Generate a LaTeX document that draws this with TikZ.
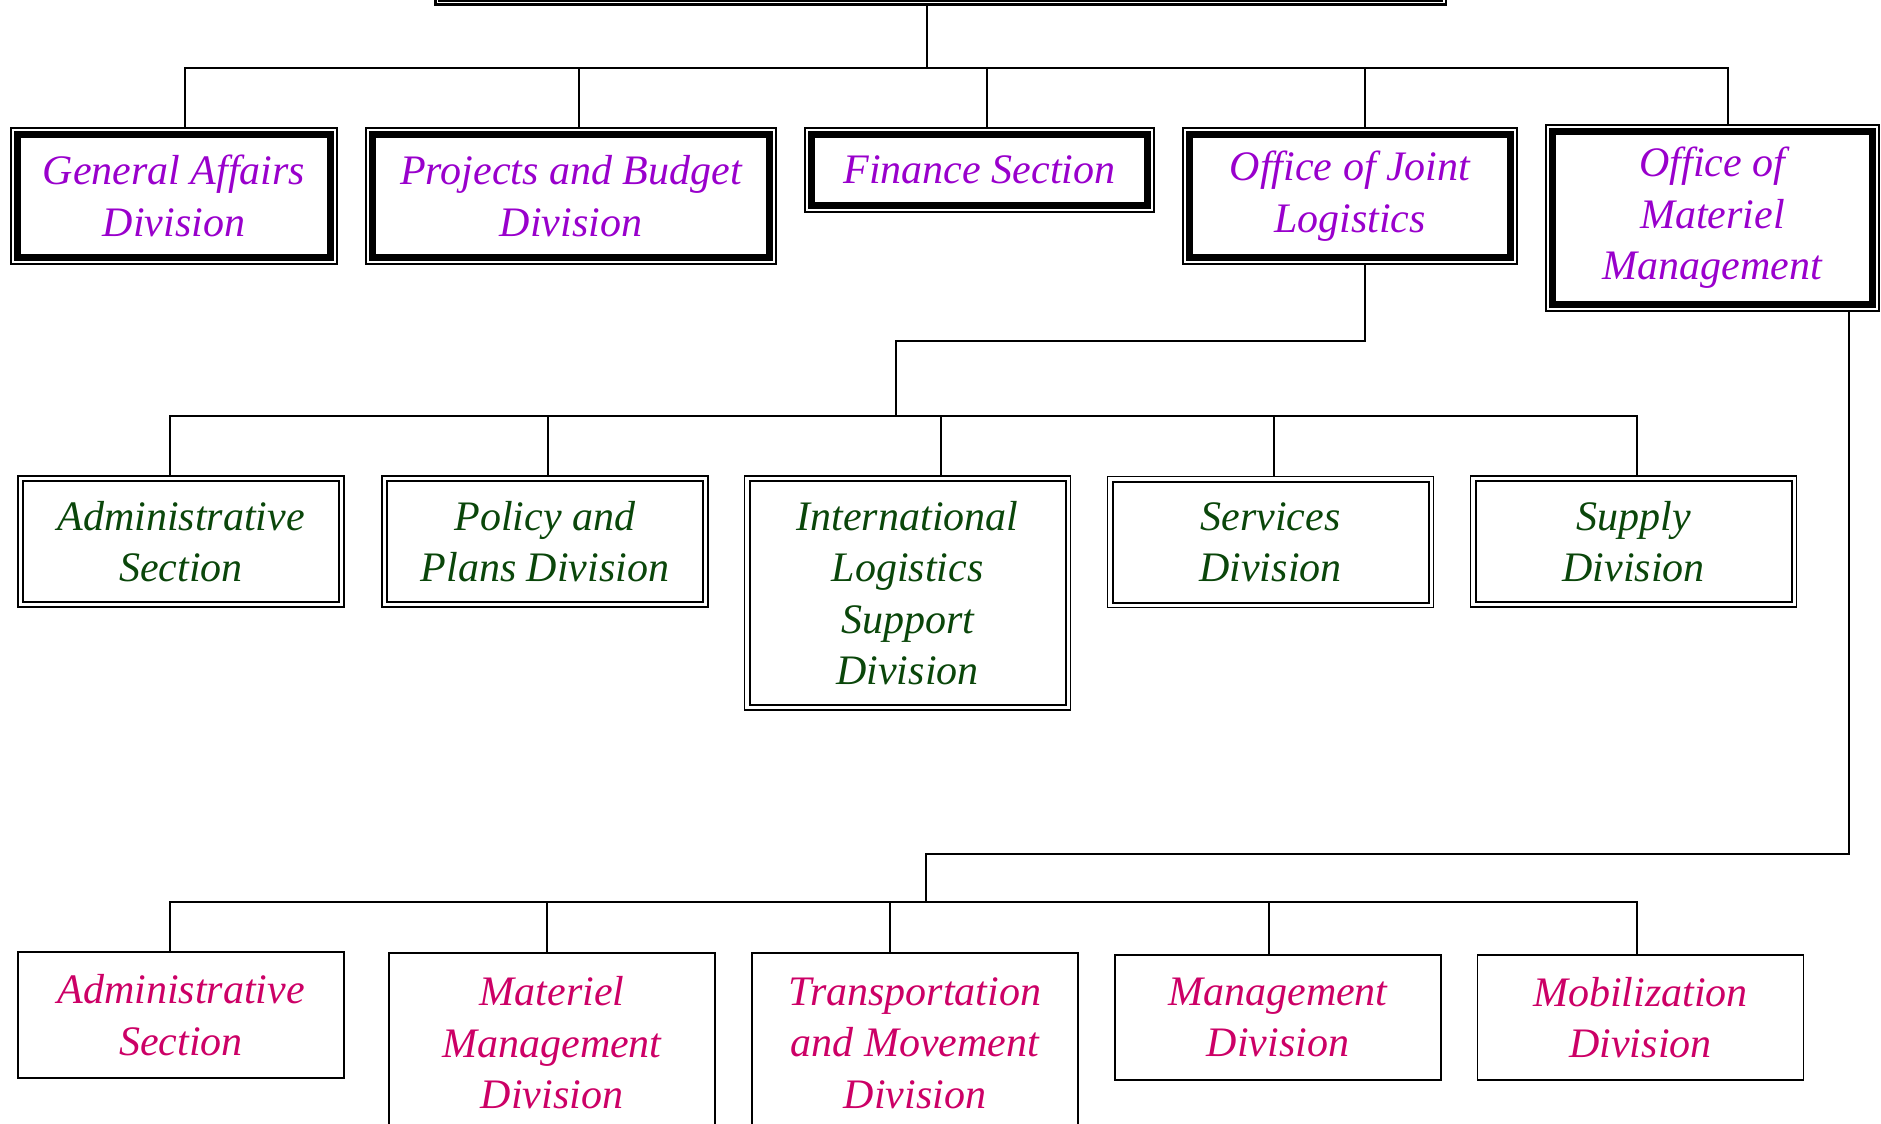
\documentclass[tikz,border=0pt]{standalone}
\usepackage{fontspec}
\usepackage{xcolor}
\usepackage{tikz}
\usetikzlibrary{calc,positioning}
\newfontfamily\chartfont{Liberation Serif}

\definecolor{officecol}{RGB}{153,0,204}
\definecolor{jointcol}{RGB}{10,70,10}
\definecolor{materielcol}{RGB}{204,0,102}

\tikzset{
  unit/.style={draw, align=center, inner sep=0pt, outer sep=0pt, minimum width=158pt, minimum height=60.5pt,
    font=\chartfont\itshape\fontsize{21}{25.7}\selectfont},
  office/.style={unit, line width=3.5pt, text=officecol, minimum height=61.5pt},
  joint/.style={unit, line width=1pt, text=jointcol},
  materiel/.style={unit, line width=0.85pt, text=materielcol, minimum width=163pt, minimum height=63pt},
  link/.style={line width=0.6pt},
  rim/.style={line width=0.65pt},
}

\begin{document}
\begin{tikzpicture}[x=0.5pt, y=-0.5pt]
    \useasboundingbox (0,0) rectangle (1881,1124);
    \clip (0,0) rectangle (1881,1124);

    % Head office (only its lower edge is on the page)
    \node[draw, line width=1.25pt, outer sep=0pt, minimum width=505.25pt, minimum height=100pt] (top) at (940.75,-95.5) {};
    \draw[rim] ([shift={(1.75pt,-1.75pt)}]top.north west) rectangle ([shift={(-1.75pt,1.75pt)}]top.south east);

    % First level
    \node[office, minimum width=156.5pt] (ga) at (174,196) {General Affairs\\Division};
    \node[office, minimum width=198.5pt] (pb) at (571,196) {Projects and Budget\\Division};
    \node[office, minimum width=168pt, minimum height=35.5pt] (fs) at (979.5,170) {Finance Section};
    \node[office, minimum width=160.5pt] (ojl) at (1350,196) {Office of Joint\\Logistics};
    \node[office, minimum width=160pt, minimum height=86.5pt] (omm) at (1712.5,218) {Office of\\Materiel\\Management};
    \foreach \n in {ga,pb,fs,ojl,omm}
        \draw[rim] ([shift={(-3.25pt,3.25pt)}]\n.north west) rectangle ([shift={(3.25pt,-3.25pt)}]\n.south east);

    % Office of Joint Logistics
    \node[joint] (as1) at (181,541.5) {Administrative\\Section};
    \node[joint] (pp) at (545,541.5) {Policy and\\Plans Division};
    \node[joint, minimum height=112pt] (ils) at (907.5,593) {International\\Logistics\\Support\\Division};
    \node[joint] (sv) at (1270.5,542) {Services\\Division};
    \node[joint] (su) at (1633.5,541.5) {Supply\\Division};
    \foreach \n in {as1,pp,ils,sv,su}
        \draw[rim] ([shift={(-2.5pt,2.5pt)}]\n.north west) rectangle ([shift={(2.5pt,-2.5pt)}]\n.south east);

    % Office of Materiel Management
    \node[materiel] (as2) at (181,1015) {Administrative\\Section};
    \node[materiel, minimum height=90pt] (mm) at (552,1043) {Materiel\\Management\\Division};
    \node[materiel, minimum height=90pt] (tm) at (915,1043) {Transportation\\and Movement\\Division};
    \node[materiel, minimum height=62.5pt] (md) at (1278,1017.5) {Management\\Division};
    \node[materiel, minimum height=62.5pt] (mb) at (1640.5,1017.5) {Mobilization\\Division};

    % Connectors
    \coordinate (bus1) at (927,68);
    \coordinate (bus2) at (896,416);
    \coordinate (bus3) at (926,902);
    \coordinate (ojl-elbow) at (896,341);
    \coordinate (omm-elbow) at (926,854);

    \draw[link] (top.south) ++(-13.75,0) -- (bus1);
    \foreach \n/\dx in {ga/11, pb/8, fs/7.5, ojl/15, omm/15.5}
        \draw[link] ([yshift=3.25pt]\n.north) ++(\dx,0) |- (bus1);

    \draw[link] ([yshift=-3.25pt]ojl.south) ++(15,0) |- (ojl-elbow) -- (bus2);
    \foreach \n/\dx in {as1/-11, pp/3, ils/33.5, sv/3.5, su/3.5}
        \draw[link] ([yshift=2.5pt]\n.north) ++(\dx,0) |- (bus2);

    \draw[link] ([yshift=-3.25pt]omm.south) ++(136.5,0) |- (omm-elbow) -- (bus3);
    \foreach \n/\dx in {as2/-11, mm/-5, tm/-25, md/-9, mb/-3.5}
        \draw[link] (\n.north) ++(\dx,0) |- (bus3);
\end{tikzpicture}
\end{document}
